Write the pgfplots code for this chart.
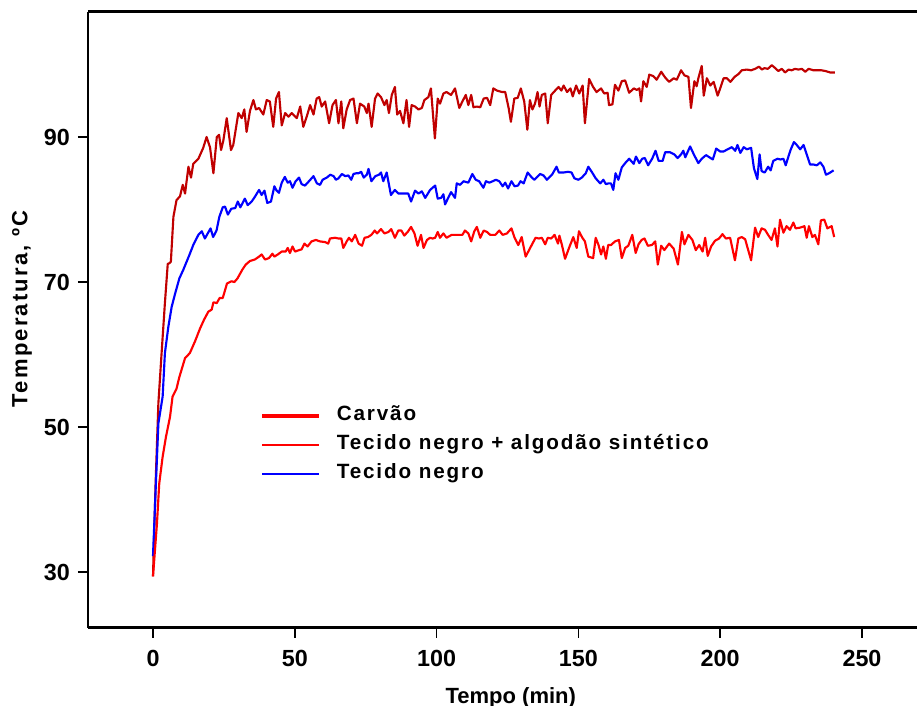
\documentclass[border=0pt]{standalone}
\usepackage{fontspec}
\setmainfont{Liberation Sans}
\newfontfamily\legfont{Liberation Sans}[LetterSpace=9]
\newfontfamily\ylabfont{Liberation Sans}[LetterSpace=10]
\usepackage{pgfplots}
\usepackage{pgfplotstable}
\pgfplotsset{compat=1.18}
\definecolor{darkred}{HTML}{C00000}
\definecolor{brightred}{HTML}{FF0000}
\definecolor{pureblue}{HTML}{0000FF}

\pgfplotstableread{
x y
0 29.4
0.9 42.0
1.9 53.3
3.0 60.0
4.2 67.1
5.2 72.5
5.8 72.6
6.3 72.8
7.2 79.0
8.3 81.3
9.5 81.8
10.5 83.4
11.3 82.2
12.5 85.9
13.4 84.4
14.2 86.3
16.0 87.0
17.7 88.5
18.9 90.0
20.1 88.6
21.3 85.0
22.5 90.0
23.3 90.3
24.0 88.2
24.8 89.5
26.0 92.6
27.5 88.2
28.3 88.9
30.1 93.3
31.3 92.6
32.2 93.8
33.0 90.7
34.2 93.6
35.4 95.1
36.3 93.8
37.4 94.0
38.9 93.1
40.1 95.1
41.2 94.9
42.4 91.4
43.4 95.3
44.4 96.2
45.4 91.6
46.6 93.3
47.8 92.8
48.9 93.3
50.7 92.6
51.9 94.2
53.0 91.4
54.2 92.8
55.4 94.4
56.6 93.1
57.7 95.3
58.6 95.5
59.5 94.2
60.7 94.9
62.1 91.9
63.3 94.4
64.5 95.1
65.4 91.9
66.4 94.9
67.1 91.2
68.3 93.8
69.5 95.1
70.7 95.3
71.9 91.9
73.0 94.6
74.5 94.2
75.4 93.3
76.0 94.6
77.1 91.4
78.3 95.3
79.2 96.0
80.4 95.5
81.6 94.4
82.4 95.1
83.2 93.3
84.2 95.8
85.3 96.9
86.1 93.1
87.1 93.6
88.3 91.9
89.4 95.1
90.3 91.4
91.2 94.4
92.4 94.2
93.6 93.8
94.8 94.0
95.7 95.1
97.1 95.5
98.0 96.7
99.4 89.8
100.4 95.3
101.2 94.6
102.4 96.0
103.5 96.2
105.1 95.8
106.5 96.7
108.0 94.0
109.1 94.9
110.3 95.8
111.2 94.4
112.2 95.8
113.0 94.1
114.2 94.2
115.4 94.1
116.6 95.3
117.8 95.4
118.9 94.4
120.0 96.7
121.3 96.4
123.1 96.2
124.2 96.2
125.4 94.0
126.2 92.1
127.4 95.3
128.6 95.4
129.7 96.7
130.9 94.9
132.0 91.0
132.9 95.1
133.8 93.8
134.7 94.6
135.6 96.2
136.3 94.2
137.1 95.8
138.3 96.0
139.2 91.9
140.4 95.8
141.8 96.4
143.0 96.9
144.0 96.4
144.8 97.1
146.0 96.2
147.2 96.7
148.0 95.6
149.2 97.1
150.3 96.0
151.5 97.1
152.3 91.9
153.8 98.0
155.2 96.9
156.4 96.2
158.0 96.7
159.1 96.0
160.3 96.1
160.8 94.4
162.0 94.5
162.9 97.2
164.1 96.4
165.3 97.7
166.5 97.8
167.9 96.1
169.5 96.7
170.6 96.5
171.5 96.7
172.1 94.9
172.9 97.7
174.1 96.9
175.0 98.6
176.4 98.4
177.6 97.9
179.2 99.0
180.6 98.2
182.0 97.6
183.6 98.1
184.7 97.9
186.2 99.2
187.4 98.5
188.8 98.3
189.7 94.0
190.9 97.7
191.7 97.0
192.3 98.1
193.5 99.8
194.2 95.7
195.3 98.1
196.5 97.1
197.7 97.6
199.1 95.7
200.0 96.7
201.2 98.1
202.4 98.1
203.6 97.6
205.1 98.3
206.5 98.7
207.6 99.2
209.4 99.3
210.9 99.2
212.3 99.4
213.7 99.7
214.7 99.3
215.6 99.5
216.8 99.4
218.2 99.9
219.4 99.5
220.5 99.1
221.7 99.4
222.9 98.9
224.1 99.3
225.2 99.2
226.4 99.4
227.6 99.3
228.8 99.4
230.0 99.0
231.2 99.4
232.9 99.2
234.5 99.2
235.7 99.2
237.1 99.1
238.8 98.9
240.4 98.9
}\topcurve

\pgfplotstableread{
x y
0 32.2
1.0 42.0
1.9 50.5
3.4 54.2
4.2 60.2
5.4 63.8
6.6 66.6
7.8 68.4
9.3 70.5
10.7 71.7
12.8 73.7
14.2 75.1
16.0 76.5
17.2 77.0
18.3 76.0
20.3 77.4
21.2 76.2
22.4 77.1
23.4 79.0
24.6 80.3
25.4 80.4
26.4 79.3
27.6 80.1
29.0 80.2
29.9 81.1
30.8 80.3
32.4 81.5
33.4 80.6
34.8 81.1
36.0 81.8
37.4 82.7
38.3 82.0
39.3 82.6
40.3 80.9
41.6 81.1
42.8 83.2
43.6 82.6
44.4 82.3
45.4 83.7
46.5 84.5
47.5 83.7
48.3 83.9
49.2 83.0
50.3 83.9
51.5 84.4
52.4 83.5
53.6 83.3
55.0 83.9
56.6 84.6
57.8 83.6
58.9 83.4
59.8 84.1
61.3 84.4
62.5 84.8
63.7 84.6
64.5 84.1
65.4 84.3
66.6 84.9
67.8 84.6
68.9 84.7
69.9 84.1
70.7 84.9
71.7 85.0
72.5 85.0
73.4 85.2
74.3 84.4
75.4 84.8
76.0 85.6
77.0 83.9
78.4 84.6
79.7 84.8
80.4 85.1
81.2 83.9
82.4 85.1
83.9 82.0
85.3 82.7
86.5 82.2
88.3 82.2
90.0 82.2
91.0 81.1
92.4 82.6
93.6 82.2
94.8 82.5
96.0 81.6
97.7 82.7
99.5 83.3
100.4 81.5
101.6 81.6
102.4 82.1
103.0 80.7
104.2 81.7
105.1 82.4
106.5 81.6
107.1 83.6
108.3 83.4
109.5 83.9
111.2 83.7
112.6 84.9
113.8 84.1
115.0 83.9
116.5 83.0
117.4 83.9
118.6 83.7
119.8 83.9
120.9 84.1
122.1 83.9
123.3 83.2
124.2 83.7
125.2 82.9
126.4 83.9
127.5 83.2
128.7 83.3
129.6 83.9
130.7 83.6
132.1 85.1
133.6 84.4
134.5 84.1
136.5 84.9
137.7 84.7
138.9 84.1
140.7 84.8
142.3 85.9
143.1 85.1
144.7 85.1
146.4 85.2
147.6 85.1
148.6 84.3
150.0 84.1
151.2 84.4
152.6 85.0
153.5 85.9
154.7 85.2
156.1 84.3
157.7 83.6
158.8 84.1
159.7 83.5
160.6 83.6
161.5 83.6
162.3 82.7
163.1 85.0
164.1 84.1
165.3 85.8
166.5 86.4
167.9 87.0
169.5 86.3
170.3 87.3
171.5 86.4
172.5 87.0
173.4 87.1
174.6 86.1
176.0 87.0
177.2 88.1
178.3 86.7
179.7 86.7
180.6 87.9
182.3 87.9
183.8 87.6
185.0 87.1
186.2 87.6
187.0 88.1
187.7 87.2
189.4 88.7
190.7 87.6
192.3 86.4
193.5 87.0
195.0 87.5
197.4 86.9
198.6 88.4
200.0 88.0
201.2 88.0
202.6 88.3
204.1 88.6
205.3 88.1
206.1 88.9
207.1 87.8
208.3 88.6
209.4 88.3
210.9 88.5
211.9 85.7
213.1 84.2
213.9 87.6
214.6 85.3
215.7 85.1
216.9 85.9
217.8 85.4
218.7 86.7
220.2 87.0
221.3 86.9
222.3 87.0
223.1 86.1
224.3 87.6
224.9 88.3
226.0 89.3
227.0 88.9
228.2 88.3
229.4 88.9
230.5 87.6
231.7 86.2
232.9 86.2
234.1 86.1
235.3 86.5
236.4 85.9
237.3 84.8
238.4 85.0
240.0 85.4
}\bluecurve

\pgfplotstableread{
x y
0 29.4
1.4 36.7
2.2 42.2
3.4 45.9
4.6 48.7
6.0 51.4
6.9 54.2
8.3 55.3
9.3 56.9
11.3 59.5
13.0 60.2
14.8 61.8
16.6 63.6
18.0 64.8
19.5 65.9
20.7 66.2
21.3 67.2
22.5 67.1
23.5 67.8
24.6 67.8
26.1 69.8
27.7 70.1
28.7 70.0
29.8 70.5
31.5 71.7
32.7 72.4
34.2 72.9
35.9 73.1
37.4 73.5
38.3 73.8
39.5 73.1
40.9 73.3
42.1 73.9
42.8 73.5
44.0 73.8
45.4 74.2
46.8 74.2
47.5 74.7
48.3 74.0
49.2 74.9
50.1 74.2
51.5 74.4
52.4 74.5
53.4 75.3
54.5 74.9
55.9 75.6
57.4 75.8
58.9 75.6
60.7 75.5
61.8 75.3
62.4 76.0
64.2 76.1
65.4 76.0
66.4 76.0
67.1 74.7
68.3 75.6
69.1 76.1
70.1 75.6
71.3 76.5
72.5 75.3
73.7 75.0
74.6 76.1
75.8 76.2
77.0 76.5
78.2 77.1
79.0 76.7
80.4 77.3
81.6 76.7
83.0 76.9
84.0 77.3
85.3 76.1
86.5 77.1
87.6 77.1
88.6 76.4
89.8 76.9
91.0 77.6
92.2 76.7
93.3 75.0
94.5 76.5
95.4 74.7
96.6 75.8
97.7 76.1
98.6 76.0
99.5 76.1
100.4 76.9
101.2 76.1
102.4 76.7
103.5 76.1
105.3 76.5
107.2 76.5
109.1 76.5
110.0 77.1
111.2 76.7
112.2 75.6
113.3 77.0
114.2 77.6
115.4 76.1
116.6 77.1
117.8 76.9
118.9 76.5
120.7 76.5
122.1 77.1
123.3 76.5
124.8 76.7
126.4 77.4
127.5 76.1
128.8 75.1
130.0 76.2
131.4 73.5
132.6 74.4
133.8 75.3
134.9 76.1
136.1 76.0
137.1 76.1
138.3 75.2
139.2 76.1
140.4 76.0
141.6 76.5
142.8 75.3
143.3 76.4
144.2 75.1
145.3 73.2
146.7 74.7
148.2 76.2
149.4 74.7
150.2 77.0
151.4 76.1
152.3 75.6
153.5 73.5
155.2 73.3
156.1 76.1
157.1 75.1
158.0 73.8
158.8 74.9
159.7 73.2
160.5 75.1
161.5 75.1
162.9 75.6
164.3 75.8
165.3 73.3
166.5 74.7
167.6 75.0
169.0 76.5
170.2 74.0
171.2 75.2
172.3 75.8
173.3 76.0
174.5 75.0
175.9 75.1
177.1 75.6
178.0 72.4
179.2 75.0
180.3 74.4
182.0 75.3
183.6 74.6
185.1 72.4
186.5 76.9
187.4 75.2
188.8 76.5
190.2 75.8
191.4 74.4
192.6 75.1
193.8 74.2
194.7 76.1
195.6 73.6
196.8 74.9
198.2 75.7
199.6 76.0
200.8 76.6
202.0 76.0
203.5 76.1
205.2 73.0
206.4 76.0
207.6 76.2
208.8 75.9
210.9 73.0
212.3 77.5
213.4 76.2
214.6 77.4
215.8 77.2
216.9 76.5
218.1 75.8
219.3 77.4
220.2 74.9
221.1 78.6
222.3 76.8
223.4 77.7
224.6 77.2
225.8 78.2
226.6 77.4
228.2 77.5
229.7 77.7
230.5 76.1
231.3 77.7
232.5 76.2
233.4 76.5
234.6 75.2
235.5 78.5
236.7 78.6
237.8 77.4
239.3 77.7
240.2 76.2
}\redcurve

\begin{document}
\begin{tikzpicture}
\begin{axis}[
  at={(0pt,0pt)}, anchor=south west,
  scale only axis, width=621.75pt, height=462pt,
  xmin=-22.92, xmax=269.4, ymin=22.28, ymax=107.24,
  axis x line=box, axis y line*=left,
  x axis line style={line width=2.25pt, -},
  y axis line style={line width=1.8pt, -},
  xtick={0,50,100,150,200,250}, ytick={30,50,70,90},
  xtick pos=lower, ytick pos=left,
  tick align=outside, major tick length=7.5pt,
  every tick/.style={black, line width=1.1pt},
  minor tick num=0,
  /pgf/number format/assume math mode=true,
  tick label style={font=\fontsize{17.5}{19}\selectfont\bfseries},
  xticklabel style={yshift=-5.5pt},
  yticklabel style={xshift=-2.5pt},
  xlabel={Tempo (min)}, ylabel={Temperatura, ºC},
  every axis x label/.style={at={(axis description cs:0.510,-0.1218)}, anchor=base,
    font=\fontsize{16.5}{18}\selectfont\bfseries},
  every axis y label/.style={at={(axis description cs:-0.0796,0.518)}, rotate=90, anchor=center,
    font=\fontsize{16.5}{18}\selectfont\ylabfont\bfseries},
  legend style={draw=none, fill=none, at={(axis cs:37.7,52.9)}, anchor=north west,
    inner sep=0pt, row sep=7.25pt, font=\fontsize{15.5}{17}\selectfont\legfont\bfseries,
    nodes={inner sep=0pt, text height=11pt, text depth=3.5pt}},
  legend cell align=left,
  legend image code/.code={\draw[#1] (0pt,0pt) -- (42.75pt,0pt); \path (54.5pt,0pt);},
  clip=false,
]
\addplot[darkred, line width=1.6pt, line join=round, forget plot] table[x=x,y=y] {\topcurve};
\addplot[pureblue, line width=1.6pt, line join=round, forget plot] table[x=x,y=y] {\bluecurve};
\addplot[brightred, line width=1.6pt, line join=round, forget plot] table[x=x,y=y] {\redcurve};
\addlegendimage{brightred, line width=3pt}
\addlegendentry{Carvão}
\addlegendimage{brightred, line width=1.2pt}
\addlegendentry{Tecido negro + algodão sintético}
\addlegendimage{pureblue, line width=1.2pt}
\addlegendentry{Tecido negro}
\end{axis}
\pgfresetboundingbox
\useasboundingbox (-66pt,-58.5pt) rectangle (621.75pt,471pt);
\end{tikzpicture}
\end{document}
